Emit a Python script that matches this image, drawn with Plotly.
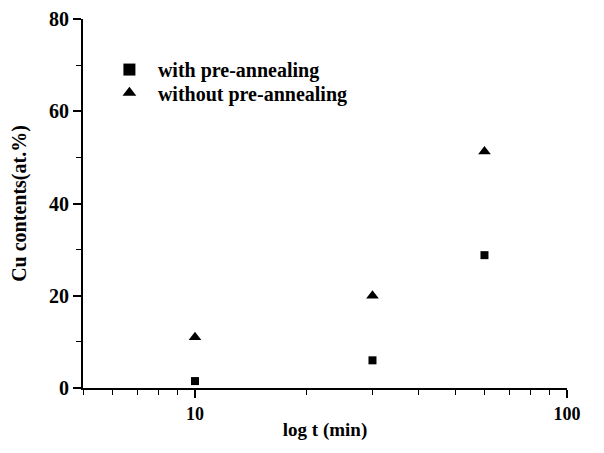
import plotly.graph_objects as go
import math

t_min = [10, 30, 60]
with_pre = [1.5, 6.0, 28.8]
without_pre = [11.0, 20.0, 51.3]
x_ticks = [10, 100]
x_minor = [5, 6, 7, 8, 9, 20, 30, 40, 50, 60, 70, 80, 90]
y_ticks = [0, 20, 40, 60, 80]

fig = go.Figure()
fig.add_trace(go.Scatter(x=t_min, y=with_pre, mode="markers", name="with pre-annealing",
                         legend="legend",
                         marker=dict(symbol="square", size=8, color="black")))
fig.add_trace(go.Scatter(x=t_min, y=without_pre, mode="markers", name="without pre-annealing",
                         legend="legend2",
                         marker=dict(symbol="triangle-up", size=11, color="black")))

bold = dict(family="Liberation Serif", color="black", weight="bold")
leg = dict(xanchor="left", yanchor="middle", bgcolor="rgba(0,0,0,0)",
           font=dict(size=20, **bold), itemwidth=47, itemsizing="constant")

fig.update_layout(
    width=596, height=445,
    margin=dict(l=75, r=37, t=11, b=65, autoexpand=False),
    paper_bgcolor="white", plot_bgcolor="white",
    font=dict(family="Liberation Serif", size=16, color="black"),
    showlegend=True,
    legend=dict(x=0.037, y=0.863, **leg),
    legend2=dict(x=0.037, y=0.800, **leg),
    xaxis=dict(type="log", range=[math.log10(5), 2], showgrid=False, zeroline=False,
               automargin=False, ticklabeloverflow="allow",
               showline=True, linecolor="black", linewidth=2,
               tickmode="array", tickvals=x_ticks, ticktext=[str(v) for v in x_ticks],
               ticks="outside", ticklen=8, tickwidth=1.5, tickcolor="black",
               tickfont=dict(size=18, **bold),
               minor=dict(tickmode="array", tickvals=x_minor, ticks="outside", ticklen=5,
                          tickcolor="black", tickwidth=1, showgrid=False),
               title=dict(text="log t (min)", standoff=0,
                          font=dict(size=19, **bold))),
    yaxis=dict(range=[0, 80], showgrid=False, zeroline=False,
               automargin=False, ticklabeloverflow="allow",
               showline=True, linecolor="black", linewidth=2,
               tickmode="array", tickvals=y_ticks,
               ticks="outside", ticklen=8, tickwidth=1.5, tickcolor="black",
               tickfont=dict(size=20, **bold),
               minor=dict(dtick=10, ticks="outside", ticklen=5, tickcolor="black", tickwidth=1,
                          showgrid=False),
               title=dict(text="Cu contents(at.%)", standoff=21,
                          font=dict(size=20, **bold))),
)

fig.write_html("out.html")
